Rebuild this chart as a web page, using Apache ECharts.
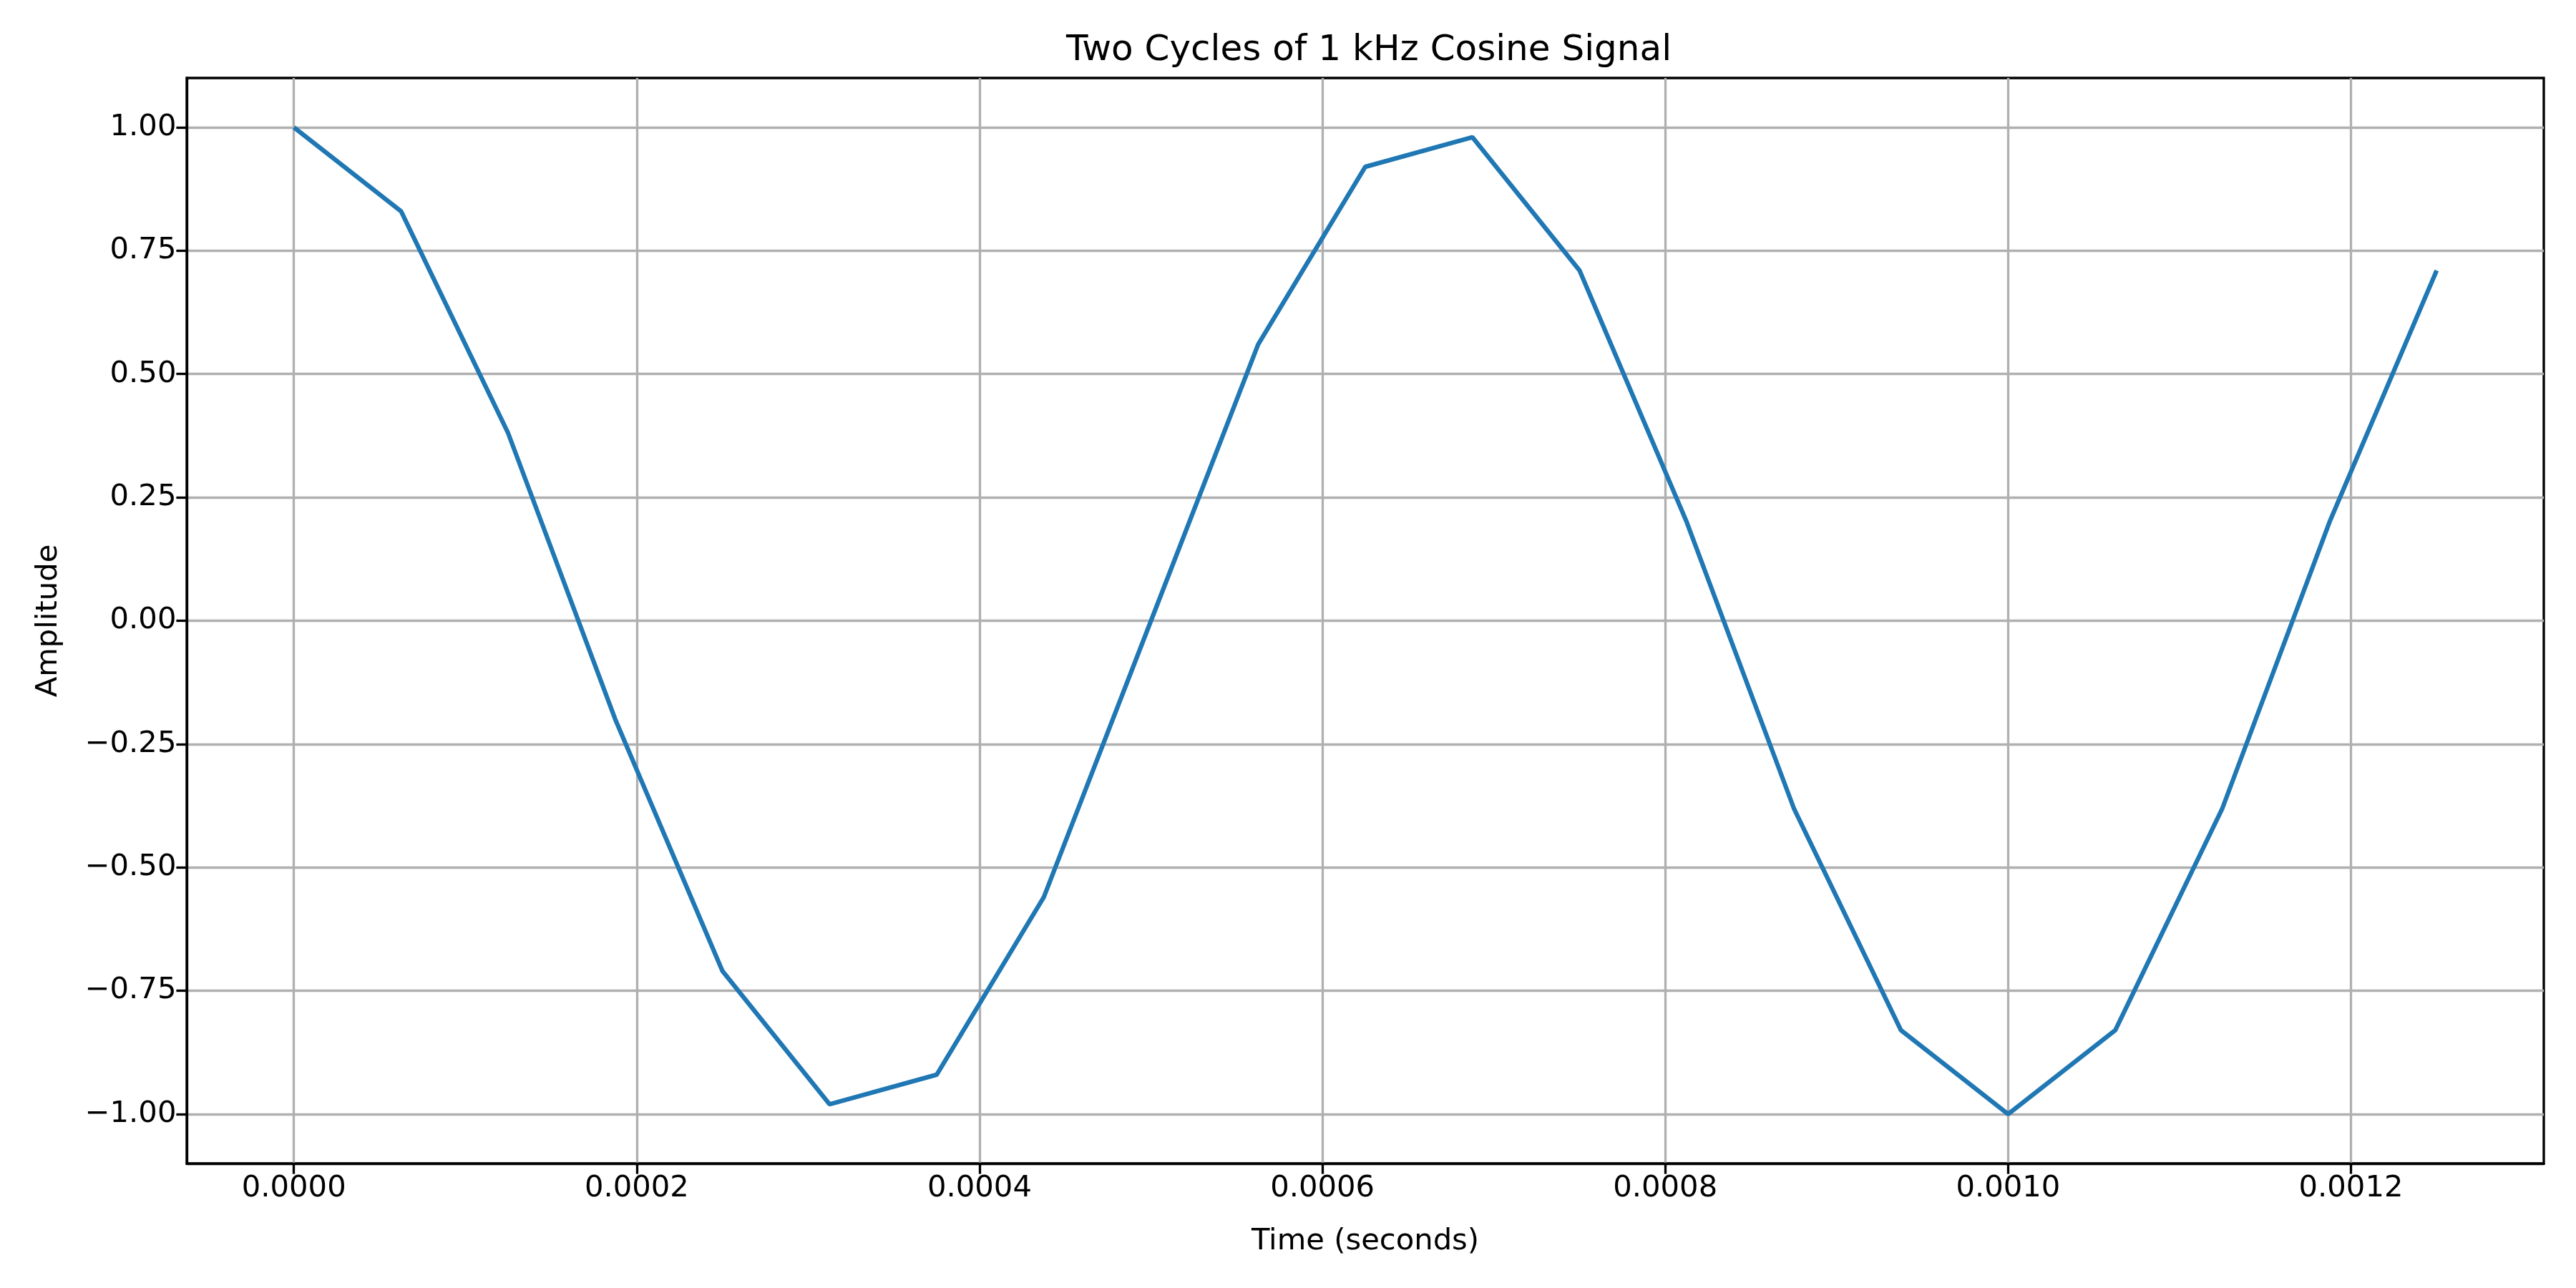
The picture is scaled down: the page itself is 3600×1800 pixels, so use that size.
<!DOCTYPE html>
<html>
<head>
<meta charset="utf-8">
<script src="https://cdn.jsdelivr.net/npm/echarts@6/dist/echarts.min.js"></script>
<style>html,body{margin:0;padding:0;background:#fff}#c{width:3600px;height:1800px}</style>
</head>
<body>
<div id="c"></div>
<script>
const timeValues = [0, 0.0000625, 0.000125, 0.0001875, 0.00025, 0.0003125, 0.000375, 0.0004375, 0.0005, 0.0005625, 0.000625, 0.0006875, 0.00075, 0.0008125, 0.000875, 0.0009375, 0.001, 0.0010625, 0.001125, 0.0011875, 0.00125];
const amplitudeValues = [1.00, 0.83, 0.38, -0.20, -0.71, -0.98, -0.92, -0.56, 0.00, 0.56, 0.92, 0.98, 0.71, 0.20, -0.38, -0.83, -1.00, -0.83, -0.38, 0.20, 0.71];
const xTicks = [0, 0.0002, 0.0004, 0.0006, 0.0008, 0.0010, 0.0012];
const yTicks = [-1.00, -0.75, -0.50, -0.25, 0.00, 0.25, 0.50, 0.75, 1.00];
const titleText = 'Two Cycles of 1 kHz Cosine Signal';
const xName = 'Time (seconds)';
const yName = 'Amplitude';

const FONT = 'DejaVu Sans';
const fmtY = v => (v < -1e-9 ? '\u2212' : '') + Math.abs(v).toFixed(2);
const fmtX = v => (v < -1e-12 ? '\u2212' : '') + Math.abs(v).toFixed(4);

const chart = echarts.init(document.getElementById('c'), null, {renderer: 'canvas'});
chart.setOption({
  animation: false,
  backgroundColor: '#ffffff',
  title: {
    text: titleText,
    left: 1908, top: 41, textAlign: 'center',
    textStyle: {fontFamily: FONT, fontSize: 50, fontWeight: 'normal', color: '#000'}
  },
  grid: {left: 261, right: 45, top: 109, bottom: 174, show: true, borderColor: '#000', borderWidth: 3.33, containLabel: false},
  xAxis: {
    type: 'value',
    min: -0.0000625, max: 0.0013125,
    name: xName, nameLocation: 'middle', nameGap: 88,
    nameTextStyle: {fontFamily: FONT, fontSize: 41.7, color: '#000'},
    axisLine: {show: true, onZero: false, lineStyle: {color: '#000', width: 3.33}},
    axisTick: {show: true, length: 14.6, lineStyle: {color: '#000', width: 3.33}, customValues: xTicks},
    axisLabel: {show: true, margin: 14.6, fontFamily: FONT, fontSize: 41.7, color: '#000', customValues: xTicks, formatter: fmtX},
    splitLine: {show: true, lineStyle: {color: '#b0b0b0', width: 3.33}}
  },
  yAxis: {
    type: 'value',
    min: -1.1, max: 1.1,
    name: yName, nameLocation: 'middle', nameGap: 172,
    nameTextStyle: {fontFamily: FONT, fontSize: 41.7, color: '#000'},
    axisLine: {show: true, onZero: false, lineStyle: {color: '#000', width: 3.33}},
    axisTick: {show: true, length: 14.6, lineStyle: {color: '#000', width: 3.33}, customValues: yTicks},
    axisLabel: {show: true, margin: 14.6, fontFamily: FONT, fontSize: 41.7, color: '#000', customValues: yTicks, formatter: fmtY},
    splitLine: {show: true, lineStyle: {color: '#b0b0b0', width: 3.33}}
  },
  series: [{
    type: 'line',
    data: timeValues.map((t, i) => [t, amplitudeValues[i]]),
    showSymbol: false,
    symbol: 'none',
    smooth: false,
    lineStyle: {color: '#1f77b4', width: 6.25},
    itemStyle: {color: '#1f77b4'},
    z: 3
  }]
});
</script>
</body>
</html>
